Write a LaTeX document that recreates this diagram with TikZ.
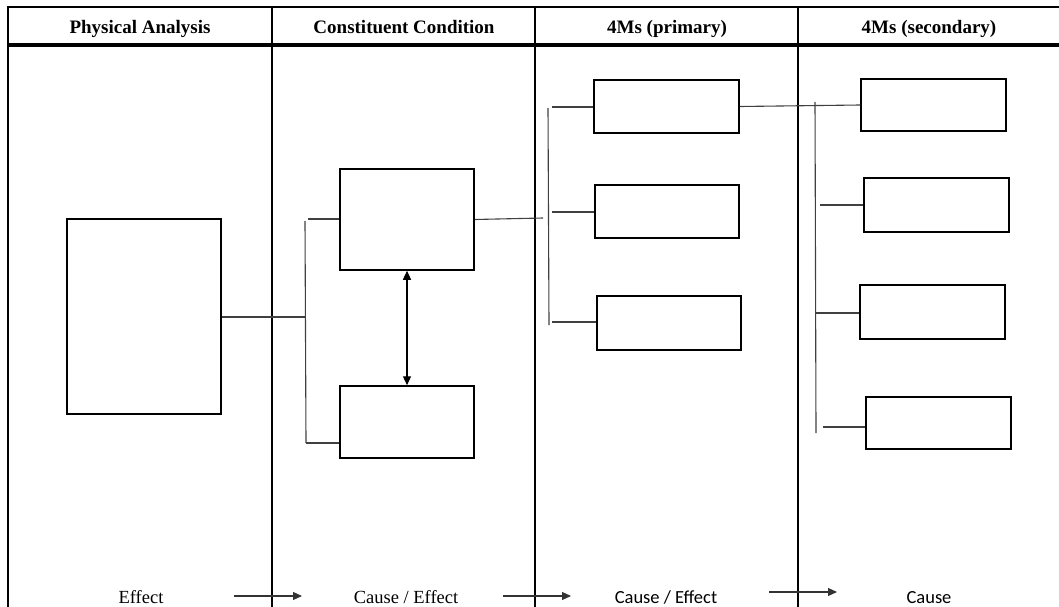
\documentclass[tikz,border=0pt]{standalone}
\usepackage{fontspec}
\setmainfont{Liberation Serif}
\newfontfamily\carlito{Carlito}
\usetikzlibrary{arrows.meta}
\begin{document}
\begin{tikzpicture}[x=1pt,y=-1pt,
  box/.style={draw=black, line width=1.5pt, inner sep=0pt, fill=white},
  conn/.style={draw=black!75, line width=1.1pt},
  frame/.style={draw=black, line width=2.4pt},
  hdr/.style={font=\fontsize{19}{21}\selectfont\bfseries, anchor=base, inner sep=0pt},
  lbl/.style={font=\fontsize{18.5}{20}\selectfont, anchor=base, inner sep=0pt},
  clbl/.style={font=\carlito\fontsize{18.5}{20}\selectfont, anchor=base, inner sep=0pt},
  flow/.style={draw=black!80, line width=1.1pt, -{Triangle[length=9pt,width=8pt]}},
  dbl/.style={draw=black, line width=1.1pt, {Triangle[length=9pt,width=8pt]}-{Triangle[length=9pt,width=8pt]}}
]
\useasboundingbox (0,0) rectangle (1059,607);
% frame
\draw[frame, line width=2.6pt] (8,7) -- (1059,7);
\draw[frame, line width=3.4pt] (8,45) -- (1059,45);
\draw[frame] (8,6) -- (8,607);
\draw[frame] (272,7) -- (272,607);
\draw[frame] (535,7) -- (535,607);
\draw[frame] (798,7) -- (798,607);
% headers
\node[hdr] (h1) at (140,34) {Physical Analysis};
\node[hdr] (h2) at (404,34) {Constituent Condition};
\node[hdr] (h3) at (667,34) {4Ms (primary)};
\node[hdr] (h4) at (929,34) {4Ms (secondary)};
% boxes
\node[box, minimum width=154, minimum height=195] (pa) at (144,316.5) {};
\node[box, minimum width=134, minimum height=101] (cc1) at (407,219.5) {};
\node[box, minimum width=134, minimum height=72] (cc2) at (407,422) {};
\node[box, minimum width=145, minimum height=53] (p1) at (666.5,106.5) {};
\node[box, minimum width=144, minimum height=53] (p2) at (667,211.5) {};
\node[box, minimum width=144, minimum height=54] (p3) at (669,323) {};
\node[box, minimum width=145, minimum height=52] (s1) at (933.5,105) {};
\node[box, minimum width=145, minimum height=54] (s2) at (936.5,205) {};
\node[box, minimum width=145, minimum height=54] (s3) at (932.5,312) {};
\node[box, minimum width=145, minimum height=52] (s4) at (938.5,423) {};
% bracket coordinates
\coordinate (ba) at (305,317);
\coordinate (bat) at (305,221);
\coordinate (bab) at (306,443);
\coordinate (ba1) at (308,219);
\coordinate (ba2) at (306,443);
\coordinate (bb) at (543,218);
\coordinate (bbt) at (548,108);
\coordinate (bbb) at (549,325);
\coordinate (bb1) at (552,107);
\coordinate (bb2) at (552,212);
\coordinate (bb3) at (552,322);
\coordinate (bct) at (815,102);
\coordinate (bcb) at (816,433);
\coordinate (bc2) at (820,205);
\coordinate (bc3) at (815,313);
\coordinate (bc4) at (823,427);
% connectors
\draw[conn] (pa.east |- ba) -- (ba);
\draw[conn] (bat) -- (bab);
\draw[conn] (ba1) -- (cc1.west |- ba1);
\draw[conn] (ba2) -- (cc2.west |- ba2);
\draw[conn] (cc1.east) -- (bb);
\draw[conn] (bbt) -- (bbb);
\draw[conn] (bb1) -- (p1.west |- bb1);
\draw[conn] (bb2) -- (p2.west |- bb2);
\draw[conn] (bb3) -- (p3.west |- bb3);
\draw[conn] (p1.east) -- (s1.west);
\draw[conn] (bct) -- (bcb);
\draw[conn] (bc2) -- (s2.west |- bc2);
\draw[conn] (bc3) -- (s3.west |- bc3);
\draw[conn] (bc4) -- (s4.west |- bc4);
\draw[dbl] (cc1.south) -- (cc2.north);
% bottom labels
\node[lbl] (e1) at (141,603) {Effect};
\node[lbl] (e2) at (406,603) {Cause / Effect};
\node[clbl] (e3) at (666,603) {Cause / Effect};
\node[clbl] (e4) at (929,603) {Cause};
\coordinate (a1s) at (234,596);
\coordinate (a1e) at (302,596);
\coordinate (a2s) at (503,596);
\coordinate (a2e) at (571,596);
\coordinate (a3s) at (769,592);
\coordinate (a3e) at (837,592);
\draw[flow] (a1s) -- (a1e);
\draw[flow] (a2s) -- (a2e);
\draw[flow] (a3s) -- (a3e);
\end{tikzpicture}
\end{document}
